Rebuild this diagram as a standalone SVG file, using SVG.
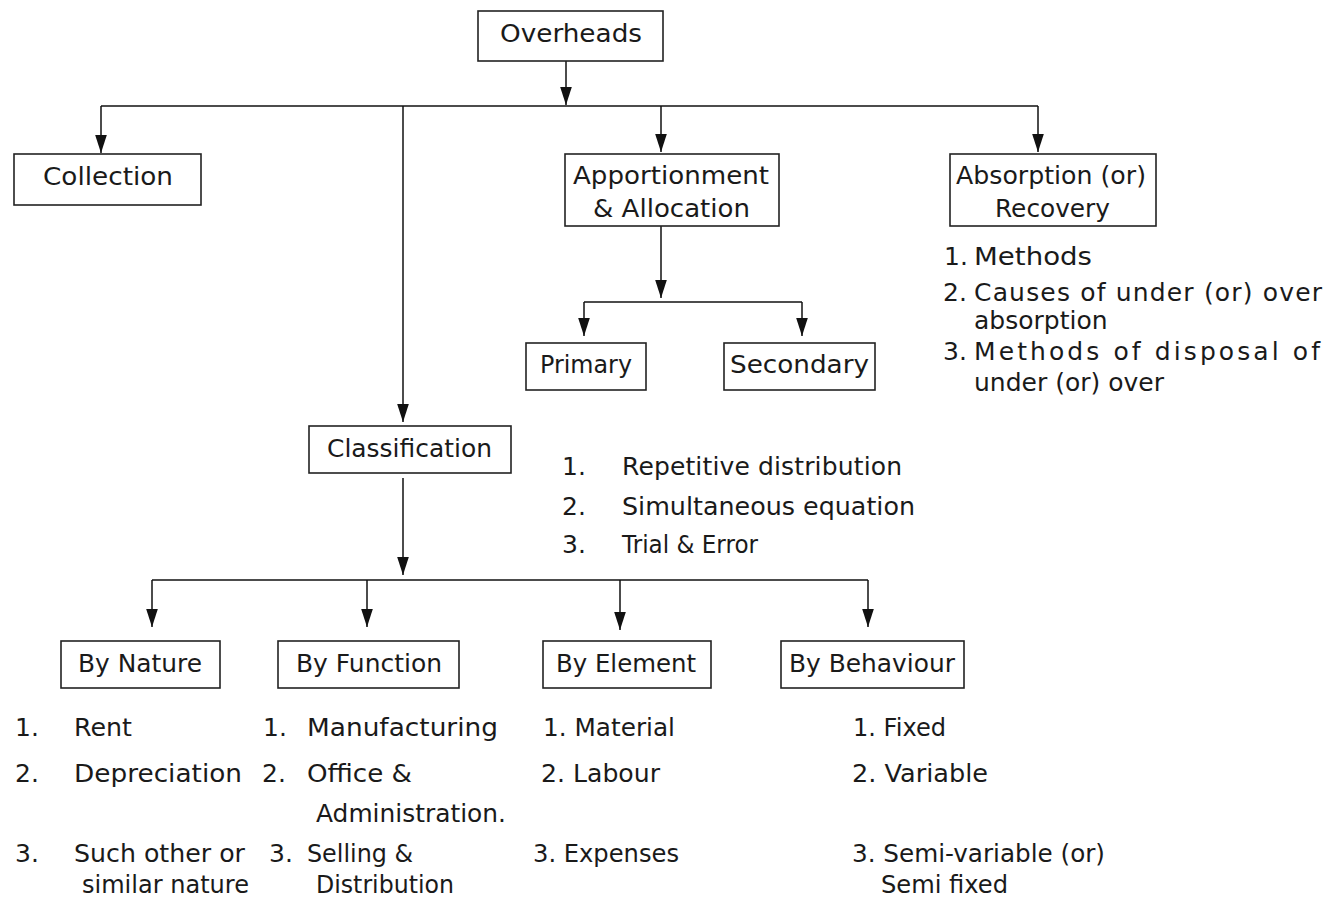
<svg xmlns="http://www.w3.org/2000/svg" width="1333" height="898" viewBox="0 0 1333 898">
<style>
  .box { fill: #fff; stroke: #222; stroke-width: 1.6; }
  .t { font-family: "DejaVu Sans", "Liberation Sans", sans-serif; font-size: 25px; fill: #1a1a1a; }
  .c { stroke: #111; stroke-width: 1.5; fill: none; }
  .a { marker-end: url(#arr); }
</style>
<defs>
  <marker id="arr" markerUnits="userSpaceOnUse" markerWidth="18" markerHeight="12" viewBox="0 0 17 11" refX="17" refY="5.5" orient="auto">
    <path d="M0,0 L17,5.5 L0,11 Z" fill="#111"/>
  </marker>
</defs>
<rect width="1333" height="898" fill="#fff"/>

<g id="connectors">
  <line class="c a" x1="566" y1="61" x2="566" y2="105"/>
  <line class="c" x1="101" y1="106" x2="1038" y2="106"/>
  <line class="c a" x1="101" y1="106" x2="101" y2="153"/>
  <line class="c a" x1="403" y1="106" x2="403" y2="422"/>
  <line class="c a" x1="661" y1="106" x2="661" y2="152"/>
  <line class="c a" x1="1038" y1="106" x2="1038" y2="152"/>
  <line class="c a" x1="661" y1="226" x2="661" y2="298"/>
  <line class="c" x1="584" y1="302" x2="802" y2="302"/>
  <line class="c a" x1="584" y1="302" x2="584" y2="336"/>
  <line class="c a" x1="802" y1="302" x2="802" y2="336"/>
  <line class="c a" x1="403" y1="478" x2="403" y2="575"/>
  <line class="c" x1="152" y1="580" x2="868" y2="580"/>
  <line class="c a" x1="152" y1="580" x2="152" y2="627"/>
  <line class="c a" x1="367" y1="580" x2="367" y2="627"/>
  <line class="c a" x1="620" y1="580" x2="620" y2="630"/>
  <line class="c a" x1="868" y1="580" x2="868" y2="627"/>
</g>

<g id="overheads">
  <rect class="box" x="478" y="11" width="185" height="50"/>
  <text class="t" x="500" y="42" textLength="142" lengthAdjust="spacingAndGlyphs">Overheads</text>
</g>
<g id="collection">
  <rect class="box" x="14" y="154" width="187" height="51"/>
  <text class="t" x="43" y="185" textLength="130" lengthAdjust="spacingAndGlyphs">Collection</text>
</g>
<g id="apportionment">
  <rect class="box" x="565" y="154" width="214" height="72"/>
  <text class="t" x="573" y="184" textLength="196" lengthAdjust="spacingAndGlyphs">Apportionment</text>
  <text class="t" x="593" y="217" textLength="157" lengthAdjust="spacingAndGlyphs">&amp; Allocation</text>
</g>
<g id="absorption">
  <rect class="box" x="950" y="154" width="206" height="72"/>
  <text class="t" x="956" y="184" textLength="190" lengthAdjust="spacingAndGlyphs">Absorption (or)</text>
  <text class="t" x="995" y="217" textLength="115" lengthAdjust="spacingAndGlyphs">Recovery</text>
</g>
<g id="absorption-list">
  <text class="t" x="944" y="265">1.</text>
  <text class="t" x="974" y="265" textLength="118" lengthAdjust="spacingAndGlyphs">Methods</text>
  <text class="t" x="943" y="301">2.</text>
  <text class="t" x="974" y="301" textLength="348" lengthAdjust="spacing">Causes of under (or) over</text>
  <text class="t" x="974" y="329">absorption</text>
  <text class="t" x="943" y="360">3.</text>
  <text class="t" x="974" y="360" textLength="346" lengthAdjust="spacing">Methods of disposal of</text>
  <text class="t" x="974" y="391">under (or) over</text>
</g>
<g id="primary">
  <rect class="box" x="526" y="343" width="120" height="47"/>
  <text class="t" x="540" y="373" textLength="92" lengthAdjust="spacingAndGlyphs">Primary</text>
</g>
<g id="secondary">
  <rect class="box" x="724" y="343" width="151" height="47"/>
  <text class="t" x="730" y="373" textLength="139" lengthAdjust="spacingAndGlyphs">Secondary</text>
</g>
<g id="classification">
  <rect class="box" x="309" y="426" width="202" height="47"/>
  <text class="t" x="327" y="457" textLength="165" lengthAdjust="spacingAndGlyphs">Classification</text>
</g>
<g id="apportionment-methods">
  <text class="t" x="562" y="475">1.</text>
  <text class="t" x="622" y="475" textLength="280" lengthAdjust="spacing">Repetitive  distribution</text>
  <text class="t" x="562" y="515">2.</text>
  <text class="t" x="622" y="515" textLength="293" lengthAdjust="spacingAndGlyphs">Simultaneous equation</text>
  <text class="t" x="562" y="553">3.</text>
  <text class="t" x="622" y="553" textLength="136" lengthAdjust="spacingAndGlyphs">Trial &amp; Error</text>
</g>
<g id="by-nature">
  <rect class="box" x="61" y="641" width="159" height="47"/>
  <text class="t" x="78" y="672" textLength="124" lengthAdjust="spacingAndGlyphs">By Nature</text>
</g>
<g id="by-function">
  <rect class="box" x="278" y="641" width="181" height="47"/>
  <text class="t" x="296" y="672" textLength="146" lengthAdjust="spacingAndGlyphs">By Function</text>
</g>
<g id="by-element">
  <rect class="box" x="543" y="641" width="168" height="47"/>
  <text class="t" x="556" y="672" textLength="140" lengthAdjust="spacingAndGlyphs">By Element</text>
</g>
<g id="by-behaviour">
  <rect class="box" x="781" y="641" width="183" height="47"/>
  <text class="t" x="789" y="672" textLength="166" lengthAdjust="spacingAndGlyphs">By Behaviour</text>
</g>
<g id="nature-list">
  <text class="t" x="15" y="736">1.</text>
  <text class="t" x="74" y="736" textLength="58" lengthAdjust="spacingAndGlyphs">Rent</text>
  <text class="t" x="15" y="782">2.</text>
  <text class="t" x="74" y="782" textLength="168" lengthAdjust="spacingAndGlyphs">Depreciation</text>
  <text class="t" x="15" y="862">3.</text>
  <text class="t" x="74" y="862" textLength="171" lengthAdjust="spacingAndGlyphs">Such other or</text>
  <text class="t" x="82" y="893" textLength="167" lengthAdjust="spacingAndGlyphs">similar nature</text>
</g>
<g id="function-list">
  <text class="t" x="263" y="736">1.</text>
  <text class="t" x="307" y="736" textLength="191" lengthAdjust="spacingAndGlyphs">Manufacturing</text>
  <text class="t" x="262" y="782">2.</text>
  <text class="t" x="307" y="782" textLength="105" lengthAdjust="spacingAndGlyphs">Office &amp;</text>
  <text class="t" x="316" y="822" textLength="190" lengthAdjust="spacingAndGlyphs">Administration.</text>
  <text class="t" x="269" y="862">3.</text>
  <text class="t" x="307" y="862" textLength="106" lengthAdjust="spacingAndGlyphs">Selling &amp;</text>
  <text class="t" x="316" y="893" textLength="138" lengthAdjust="spacingAndGlyphs">Distribution</text>
</g>
<g id="element-list">
  <text class="t" x="543" y="736" textLength="132" lengthAdjust="spacingAndGlyphs">1. Material</text>
  <text class="t" x="541" y="782" textLength="119" lengthAdjust="spacingAndGlyphs">2. Labour</text>
  <text class="t" x="533" y="862" textLength="146" lengthAdjust="spacingAndGlyphs">3. Expenses</text>
</g>
<g id="behaviour-list">
  <text class="t" x="853" y="736" textLength="93" lengthAdjust="spacingAndGlyphs">1. Fixed</text>
  <text class="t" x="852" y="782" textLength="136" lengthAdjust="spacingAndGlyphs">2. Variable</text>
  <text class="t" x="852" y="862" textLength="253" lengthAdjust="spacingAndGlyphs">3. Semi-variable (or)</text>
  <text class="t" x="881" y="893" textLength="127" lengthAdjust="spacingAndGlyphs">Semi fixed</text>
</g>
</svg>
